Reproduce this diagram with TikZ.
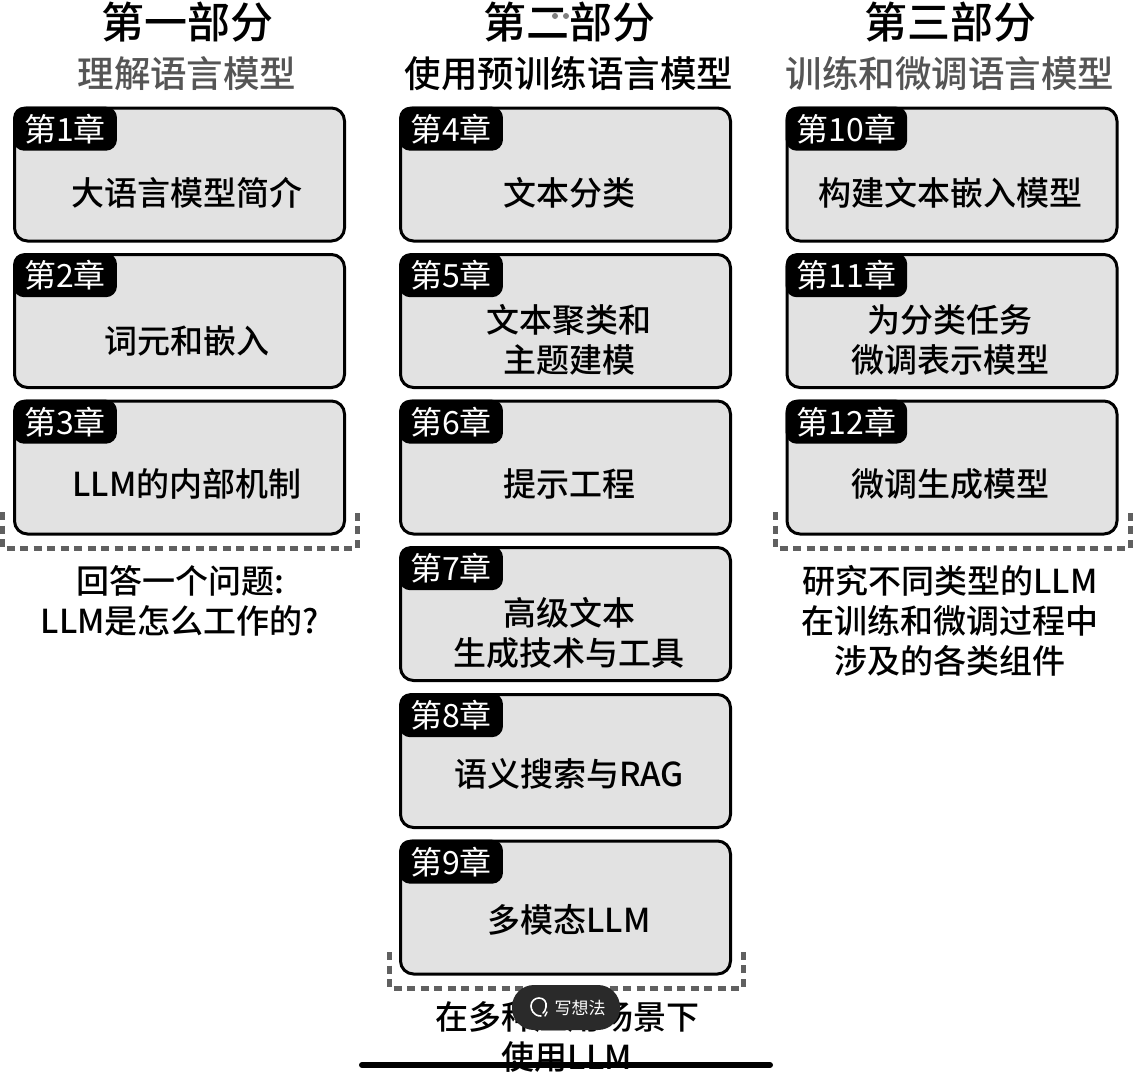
\documentclass[tikz,border=0pt]{standalone}
\usepackage{fontspec}
\setmainfont{Noto Sans CJK SC}
\newfontfamily\medfont{Noto Sans CJK SC Medium}
\definecolor{boxgray}{HTML}{E2E2E2}
\definecolor{subgray}{HTML}{555555}
\definecolor{dotgray}{HTML}{606060}
\definecolor{pillgray}{HTML}{2A2A2A}
\tikzset{
    chapbox/.style={draw=black, line width=3pt, fill=boxgray, rounded corners=13pt, minimum width=330pt, minimum height=133pt, inner sep=0pt},
    chaptag/.style={fill=black, text=white, rounded corners=11pt, anchor=north west, minimum height=44pt, inner xsep=11pt, inner ysep=0pt, font=\fontsize{32}{36}\selectfont},
    chaptext/.style={align=center, inner sep=0pt, font=\fontsize{33}{40}\medfont},
    parttitle/.style={inner sep=0pt, font=\fontsize{43}{48}\medfont},
    partsub/.style={inner sep=0pt, font=\fontsize{36.5}{40}\medfont},
    partnote/.style={align=center, inner sep=0pt, font=\fontsize{33}{40}\medfont},
    dotframe/.style={draw=dotgray, line width=5pt, dash pattern=on 8pt off 5.5pt}
}
\begin{document}
\begin{tikzpicture}[x=1pt, y=-1pt]
\useasboundingbox (0,0) rectangle (1133,1079);
\fill[white] (0,0) rectangle (1133,1079);
% part heads
\node[parttitle] (part1) at (187,22){第一部分};
\node[parttitle] (part2) at (569,22){第二部分};
\node[parttitle] (part3) at (950,22){第三部分};
\node[partsub, text=subgray] (sub1) at (187,74){理解语言模型};
\node[partsub] (sub2) at (569,74){使用预训练语言模型};
\node[partsub, text=subgray] (sub3) at (950,74){训练和微调语言模型};
\fill[gray] (555,16) circle (3pt) (566,16) circle (3pt);
% chapters
\foreach \n/\x/\y/\tx/\ty/\t in {
    1/179.5/174.5/187/193/大语言模型简介,
    2/179.5/321/187/341/词元和嵌入,
    3/179.5/467.5/187/484/LLM的内部机制,
    4/565.5/174.5/569/193/文本分类,
    5/565.5/321/569/340/{文本聚类和\\主题建模},
    6/565.5/467.5/569/484/提示工程,
    7/565.5/614/569/633/{高级文本\\生成技术与工具},
    8/565.5/761/569/774/语义搜索与RAG,
    9/565.5/907.5/569/920/多模态LLM,
    10/952/174.5/950/193/构建文本嵌入模型,
    11/952/321/950/340/{为分类任务\\微调表示模型},
    12/952/467.5/950/484/微调生成模型}
{
    \node[chapbox] (chap\n) at (\x,\y){};
    \node[chaptag] (tag\n) at (chap\n.north west){第\n 章};
    \node[chaptext] (text\n) at (\tx,\ty){\t};
}
% dotted frames
\draw[dotframe] (2,512)--(2,548)--(357,548)--(357,512);
\draw[dotframe] (389,952)--(389,988)--(743,988)--(743,952);
\draw[dotframe] (775,512)--(775,548)--(1130,548)--(1130,512);
% notes
\node[partnote] (note1) at (180,601){回答一个问题:\\LLM是怎么工作的?};
\node[partnote] (note2) at (567,1037){在多种应用场景下\\使用LLM};
\node[partnote] (note3) at (950,621){研究不同类型的LLM\\在训练和微调过程中\\涉及的各类组件};
% app overlay
\node[fill=pillgray, text=white, rounded corners=22pt, minimum width=108pt, minimum height=45pt, inner sep=0pt] (pill) at (566,1007.5){};
\node[text=white, inner sep=0pt, font=\fontsize{17}{20}\selectfont] (pilltext) at (580,1008){写想法};
\draw[white, line width=1.6pt, line cap=round] (541,1016) .. controls (533,1016) and (531,1009) .. (531,1006) .. controls (531,1001) and (535,998) .. (539,998) .. controls (544,998) and (547,1002) .. (546,1007) .. controls (546,1010) and (544,1012) .. (543,1013);
\draw[white, line width=1.4pt, line cap=round] (547,1012)--(545,1016);
\draw[line width=6pt, line cap=round] (362,1065)--(770,1065);
\end{tikzpicture}
\end{document}
